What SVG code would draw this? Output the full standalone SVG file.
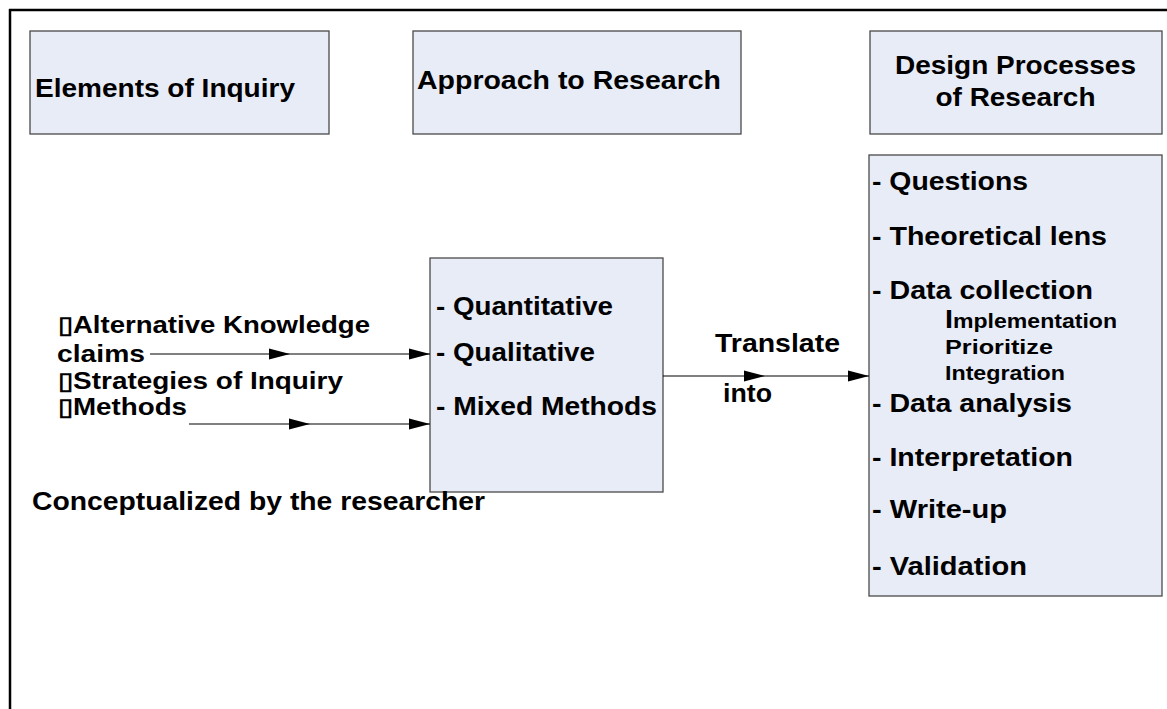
<svg xmlns="http://www.w3.org/2000/svg" width="1167" height="709" viewBox="0 0 1167 709">
  <style>
    .box { fill: #E7ECF6; stroke: #4a4a4a; stroke-width: 1.3; }
    .t { font-family: "Liberation Sans", Arial, sans-serif; font-weight: bold; font-size: 25px; fill: #000; }
    .l { font-family: "Liberation Sans", Arial, sans-serif; font-weight: bold; font-size: 24px; fill: #000; }
    .s { font-family: "Liberation Sans", Arial, sans-serif; font-weight: bold; font-size: 20px; fill: #000; }
    .frame { stroke: #000; stroke-width: 2.5; fill: none; }
    .conn { stroke: #000; stroke-width: 1.2; fill: none; marker-end: url(#arrow); }
  </style>
  <defs>
    <marker id="arrow" markerUnits="userSpaceOnUse" markerWidth="21" markerHeight="12" refX="21" refY="6" orient="auto">
      <path d="M0,0.5 L21,6 L0,11.5 Z" fill="#000"/>
    </marker>
  </defs>
  <rect width="1167" height="709" fill="#fff"/>
  <g id="frame">
    <line class="frame" x1="9" y1="10" x2="1167" y2="10"/>
    <line class="frame" x1="10" y1="9" x2="10" y2="709"/>
  </g>

  <g id="elements-of-inquiry">
    <rect class="box" x="30" y="31" width="299" height="103"/>
    <text class="t" x="35" y="97" textLength="260" lengthAdjust="spacingAndGlyphs">Elements of Inquiry</text>
  </g>

  <g id="approach-to-research">
    <rect class="box" x="413" y="31" width="328" height="103"/>
    <text class="t" x="417" y="89" textLength="304" lengthAdjust="spacingAndGlyphs">Approach to Research</text>
  </g>

  <g id="design-processes">
    <rect class="box" x="870" y="31" width="292" height="103"/>
    <text class="t" x="895" y="74" textLength="241" lengthAdjust="spacingAndGlyphs">Design Processes</text>
    <text class="t" x="1015.5" y="106" text-anchor="middle" textLength="160" lengthAdjust="spacingAndGlyphs">of Research</text>
  </g>

  <g id="design-list">
    <rect class="box" x="869" y="155" width="293" height="441"/>
    <text class="t" x="872" y="190" textLength="156" lengthAdjust="spacingAndGlyphs">- Questions</text>
    <text class="t" x="872" y="245" textLength="235" lengthAdjust="spacingAndGlyphs">- Theoretical lens</text>
    <text class="t" x="872" y="299" textLength="221" lengthAdjust="spacingAndGlyphs">- Data collection</text>
    <text class="s" x="945" y="328" textLength="172" lengthAdjust="spacingAndGlyphs"><tspan font-size="25">I</tspan>mplementation</text>
    <text class="s" x="945" y="354" textLength="108" lengthAdjust="spacingAndGlyphs">Prioritize</text>
    <text class="s" x="945" y="380" textLength="120" lengthAdjust="spacingAndGlyphs">Integration</text>
    <text class="t" x="872" y="412" textLength="200" lengthAdjust="spacingAndGlyphs">- Data analysis</text>
    <text class="t" x="872" y="466" textLength="201" lengthAdjust="spacingAndGlyphs">- Interpretation</text>
    <text class="t" x="872" y="518" textLength="135" lengthAdjust="spacingAndGlyphs">- Write-up</text>
    <text class="t" x="872" y="575" textLength="155" lengthAdjust="spacingAndGlyphs">- Validation</text>
  </g>

  <g id="approach-list">
    <rect class="box" x="430" y="258" width="233" height="234"/>
    <text class="t" x="436" y="315" textLength="177" lengthAdjust="spacingAndGlyphs">- Quantitative</text>
    <text class="t" x="436" y="361" textLength="159" lengthAdjust="spacingAndGlyphs">- Qualitative</text>
    <text class="t" x="436" y="415" textLength="221" lengthAdjust="spacingAndGlyphs">- Mixed Methods</text>
  </g>

  <g id="elements-list">
    <text class="l" x="58" y="333" textLength="312" lengthAdjust="spacingAndGlyphs">▯Alternative Knowledge</text>
    <text class="l" x="57" y="362" textLength="88" lengthAdjust="spacingAndGlyphs">claims</text>
    <text class="l" x="58" y="389" textLength="285" lengthAdjust="spacingAndGlyphs">▯Strategies of Inquiry</text>
    <text class="l" x="58" y="415" textLength="129" lengthAdjust="spacingAndGlyphs">▯Methods</text>
  </g>

  <g id="caption">
    <text class="t" x="32" y="510" textLength="453" lengthAdjust="spacingAndGlyphs">Conceptualized by the researcher</text>
  </g>

  <g id="translate-label">
    <text class="t" x="715" y="352" textLength="125" lengthAdjust="spacingAndGlyphs">Translate</text>
    <text class="t" x="723" y="402" textLength="49" lengthAdjust="spacingAndGlyphs">into</text>
  </g>

  <g id="connectors">
    <line class="conn" x1="150" y1="354" x2="290" y2="354"/>
    <line class="conn" x1="290" y1="354" x2="430" y2="354"/>
    <line class="conn" x1="189" y1="424" x2="310" y2="424"/>
    <line class="conn" x1="310" y1="424" x2="430" y2="424"/>
    <line class="conn" x1="663" y1="376" x2="765" y2="376"/>
    <line class="conn" x1="765" y1="376" x2="869" y2="376"/>
  </g>
</svg>
